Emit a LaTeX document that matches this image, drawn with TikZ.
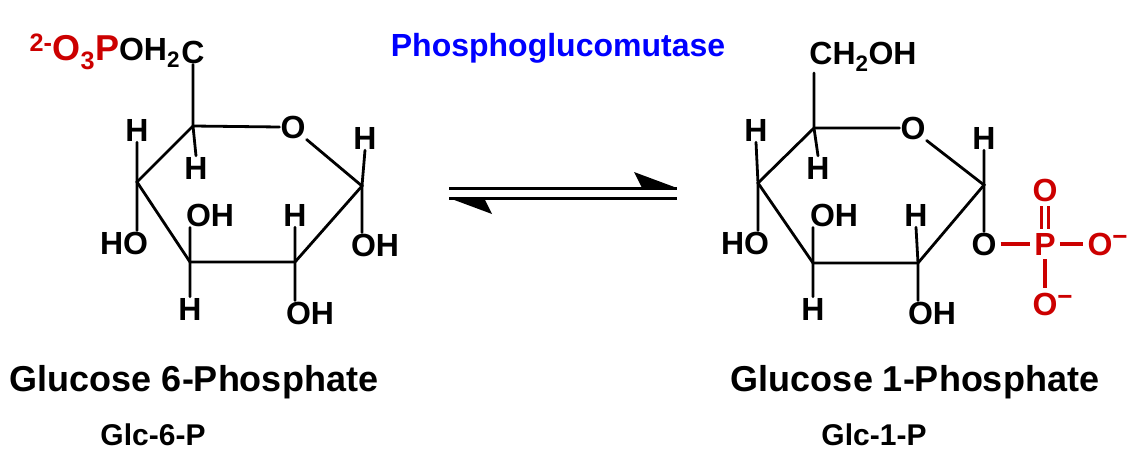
\documentclass[tikz,border=0pt]{standalone}
\usepackage{fontspec}
\setmainfont{Liberation Sans}
\begin{document}
\begin{tikzpicture}[x=1pt,y=-1pt,
 atm/.style={font=\fontsize{32}{34}\selectfont\bfseries,inner sep=1pt},
 ratm/.style={atm,text=red!80!black},
 bond/.style={line width=2.8pt,line cap=round},
 rbond/.style={line width=3.2pt,draw=red!80!black,shorten <=3pt,shorten >=3pt},
 ttl/.style={font=\fontsize{36}{40}\selectfont\bfseries},
 sub/.style={font=\fontsize{30}{32}\selectfont\bfseries}]
\useasboundingbox (0,0) rectangle (1144,474);
% ---------- left ring ----------
\coordinate (a5) at (193,126);
\node[atm] (aO) at (293,127) {O};
\coordinate (a1) at (362,186);
\coordinate (a2) at (295,262);
\coordinate (a3) at (190,262);
\coordinate (a4) at (137,182);
\draw[bond] (a5)--(aO.west) (aO.south east)--(a1)--(a2)--(a3)--(a4)--(a5);
\node[atm] (aC) at (193,52) {C};
\node[atm,anchor=east,inner sep=0pt] (aCH) at (aC.west) {{\color{red!80!black}\fontsize{36}{38}\selectfont\textsuperscript{2-}O\textsubscript{3}P}OH\textsubscript{2}};
\node[atm] (a4H) at (137,130) {H};
\node[atm] (a4O) at (124,243) {HO};
\node[atm] (a5H) at (196,168) {H};
\node[atm] (a3O) at (210,215) {OH};
\node[atm] (a3H) at (190,309) {H};
\node[atm] (a2H) at (295,215) {H};
\node[atm] (a2O) at (310,313) {OH};
\node[atm] (a1H) at (365,138) {H};
\node[atm] (a1O) at (375,245) {OH};
\draw[bond] (a5)--(aC.south) (a5)--(a5H.north) (a4)--(a4H.south) (a4)--(a4O.north -| a4)
 (a3)--(a3O.south -| a3) (a3)--(a3H.north) (a2)--(a2H.south) (a2)--(a2O.north -| a2)
 (a1)--(a1H.south) (a1)--(a1O.north -| a1);
% ---------- right ring ----------
\coordinate (b5) at (814,128);
\node[atm] (bO) at (913,128) {O};
\coordinate (b1) at (984,185);
\coordinate (b2) at (918,263);
\coordinate (b3) at (813,263);
\coordinate (b4) at (758,183);
\draw[bond] (b5)--(bO.west) (bO.south east)--(b1)--(b2)--(b3)--(b4)--(b5);
\node[atm] (bC) at (863,57) {CH\textsubscript{2}OH};
\node[atm] (b4H) at (756,130) {H};
\node[atm] (b4O) at (745,243) {HO};
\node[atm] (b5H) at (818,168) {H};
\node[atm] (b3O) at (834,215) {OH};
\node[atm] (b3H) at (813,309) {H};
\node[atm] (b2H) at (916,215) {H};
\node[atm] (b2O) at (932,313) {OH};
\node[atm] (b1H) at (984,138) {H};
\node[atm] (b1O) at (984,244) {O};
\draw[bond] (b5)--(b5 |- bC.south) (b5)--(b5H.north) (b4)--(b4H.south) (b4)--(b4O.north -| b4)
 (b3)--(b3O.south -| b3) (b3)--(b3H.north) (b2)--(b2H.south) (b2)--(b2O.north -| b2)
 (b1)--(b1H.south) (b1)--(b1O.north);
\node[ratm] (P) at (1045,244) {P};
\node[ratm] (Pu) at (1045,190) {O};
\node[ratm] (Pr) at (1100,244) {O\rlap{\raisebox{10pt}{\fontsize{26}{26}\selectfont\textminus}}};
\node[ratm] (Pd) at (1045,304) {O\rlap{\raisebox{10pt}{\fontsize{26}{26}\selectfont\textminus}}};
\draw[rbond] (b1O.east)--(P.west);
\draw[rbond] (P.east)--(Pr.west);
\draw[rbond] (P.south)--(Pd.north);
\draw[rbond] ([xshift=-3.5pt]P.north)--([xshift=-3.5pt]Pu.south);
\draw[rbond] ([xshift=3.5pt]P.north)--([xshift=3.5pt]Pu.south);
% ---------- arrows ----------
\coordinate (r1) at (449,188); \coordinate (r2) at (677,188);
\coordinate (l1) at (677,198); \coordinate (l2) at (449,198);
\draw[line width=3pt] (r1)--(r2) (l1)--(l2);
\fill (r2) -- (634,172) -- (642,188) -- cycle;
\fill (l2) -- (492,214) -- (484,198) -- cycle;
\node[font=\fontsize{32}{34}\selectfont\bfseries,text=blue] (enz) at (558,48) {Phosphoglucomutase};
% ---------- titles ----------
\node[ttl] (t1) at (194,382) {Glucose 6-Phosphate};
\node[sub] (s1) at (153,435) {Glc-6-P};
\node[ttl] (t2) at (915,382) {Glucose 1-Phosphate};
\node[sub] (s2) at (874,435) {Glc-1-P};
\end{tikzpicture}
\end{document}
